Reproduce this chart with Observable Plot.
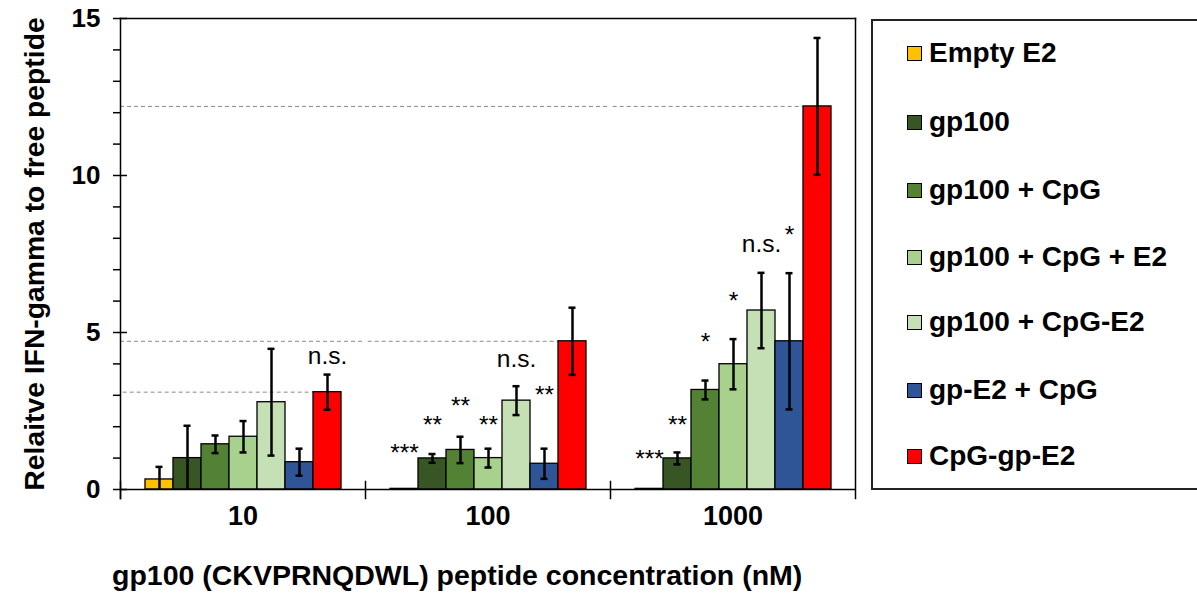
<!DOCTYPE html>
<html><head><meta charset="utf-8">
<script src="https://cdn.jsdelivr.net/npm/d3@7"></script>
<script src="https://cdn.jsdelivr.net/npm/@observablehq/plot@0.6"></script>
<style>
html,body{margin:0;padding:0;background:#fff;overflow:hidden;}
body{font-family:"Liberation Sans",Arial,sans-serif;color:#000;}
#wrap{position:relative;width:1197px;height:594px;overflow:hidden;}
#chart{position:absolute;left:0;top:0;}
#xtitle{position:absolute;left:112px;top:559px;font-weight:bold;font-size:28.5px;white-space:nowrap;line-height:32px;}
#legend{position:absolute;left:871px;top:19px;width:340px;height:471px;border:2px solid #222;box-sizing:border-box;}
.item{position:absolute;left:34px;height:34px;display:flex;align-items:center;font-weight:bold;font-size:28px;white-space:nowrap;}
.sw{width:13px;height:13px;border:1.5px solid #000;margin-right:7px;}
</style></head>
<body><div id="wrap"><div id="chart"></div><div id="xtitle"></div><div id="legend"></div></div>
<script>
const concentrations = ["10", "100", "1000"];
const series = ["Empty E2", "gp100", "gp100 + CpG", "gp100 + CpG + E2", "gp100 + CpG-E2", "gp-E2 + CpG", "CpG-gp-E2"];
const colors = ["#FFC000", "#375623", "#548235", "#A9D18E", "#C5E0B4", "#2F5597", "#FF0000"];
const values10 = [0.32, 1.0, 1.44, 1.68, 2.78, 0.87, 3.1];
const values100 = [0.02, 0.99, 1.26, 1.0, 2.83, 0.82, 4.72];
const values1000 = [0.02, 0.99, 3.17, 3.99, 5.7, 4.72, 12.2];
const errors10 = [0.4, 1.03, 0.28, 0.5, 1.7, 0.43, 0.56];
const errors100 = [0, 0.14, 0.42, 0.3, 0.46, 0.48, 1.07];
const errors1000 = [0, 0.19, 0.3, 0.8, 1.2, 2.17, 2.18];
const sigLabels10 = ["", "", "", "", "", "", "n.s."];
const sigLabels100 = ["***", "**", "**", "**", "n.s.", "**", ""];
const sigLabels1000 = ["***", "**", "*", "*", "n.s.", "*", ""];
const sigHeights10 = [null, null, null, null, null, null, 4.01];
const sigHeights100 = [0.92, 1.8, 2.4, 1.8, 3.89, 2.74, null];
const sigHeights1000 = [0.73, 1.8, 4.44, 5.75, 7.55, 7.85, null];
const yTicks = [0, 1, 2, 3, 4, 5, 6, 7, 8, 9, 10, 11, 12, 13, 14, 15];
const yMajorTicks = [0, 5, 10, 15];
const yLabel = "Relaitve IFN-gamma to free peptide";
const xLabel = "gp100 (CKVPRNQDWL) peptide concentration (nM)";

const valueSets = [values10, values100, values1000];
const errorSets = [errors10, errors100, errors1000];
const labelSets = [sigLabels10, sigLabels100, sigLabels1000];
const heightSets = [sigHeights10, sigHeights100, sigHeights1000];

const rows = [];
concentrations.forEach((c, gi) => {
  series.forEach((s, si) => {
    const v = valueSets[gi][si], e = errorSets[gi][si];
    rows.push({conc: c, series: s, value: v, lo: Math.max(0, v - e), hi: v + e, err: e,
      lowCap: v - e > 0, label: labelSets[gi][si], labelY: heightSets[gi][si]});
  });
});
const reds = concentrations.map((c, gi) => valueSets[gi][series.length - 1]);
// dashed reference lines from the axis to each red bar
const partialRefs = concentrations.map((c, gi) => ({conc: c, y: reds[gi], start: series[0], end: series[series.length - 2]}));
const fullRefs = [];
concentrations.forEach((c, gi) => reds.forEach((r, gj) => { if (gj > gi) fullRefs.push({conc: c, y: r}); }));

const W = 860, H = 545, mT = 18, mB = 56, mL = 120, mR = 5;
const frameH = H - mT - mB;
const padOuter = 0.78;
const facetW = (W - mL - mR) / concentrations.length;
const step = facetW / (series.length + 2 * padOuter);
const font = "'Liberation Sans', Arial, sans-serif";
const dash = {stroke: "#8a8a8a", strokeWidth: 1, strokeDasharray: "4,3"};

const chart = Plot.plot({
  width: W, height: H,
  marginTop: mT, marginBottom: mB, marginLeft: mL, marginRight: mR,
  style: {fontFamily: font, color: "#000", background: "transparent", overflow: "visible"},
  fx: {domain: concentrations, padding: 0, label: null},
  x: {domain: series, paddingInner: 0, paddingOuter: padOuter, axis: null},
  y: {domain: [0, 15], axis: null},
  color: {domain: series, range: colors},
  marks: [
    Plot.ruleY(fullRefs, {fx: "conc", y: "y", ...dash}),
    Plot.ruleY(partialRefs, {fx: "conc", y: "y", x1: "start", x2: "end", insetLeft: -padOuter * step, ...dash}),
    Plot.barY(rows, {fx: "conc", x: "series", y: "value", fill: "series", stroke: "#000", strokeWidth: 1.3}),
    Plot.ruleY([0], {stroke: "#000", strokeWidth: 1.5}),
    Plot.frame({facet: "super", anchor: "top", stroke: "#000", strokeWidth: 1.5}),
    Plot.frame({facet: "super", anchor: "right", insetBottom: -9, stroke: "#000", strokeWidth: 1.5}),
    Plot.frame({facet: "super", anchor: "left", insetBottom: -9, stroke: "#000", strokeWidth: 1.5}),
    Plot.frame({anchor: "left", insetTop: frameH - 8, insetBottom: -9, stroke: "#000", strokeWidth: 1.5}),
    Plot.ruleX(rows.filter(d => d.err > 0), {fx: "conc", x: "series", y1: "lo", y2: "hi", stroke: "#000", strokeWidth: 2.5}),
    Plot.tickY(rows.filter(d => d.err > 0), {fx: "conc", x: "series", y: "hi", stroke: "#000", strokeWidth: 2.5, insetLeft: 10.5, insetRight: 10.5}),
    Plot.tickY(rows.filter(d => d.err > 0 && d.lowCap), {fx: "conc", x: "series", y: "lo", stroke: "#000", strokeWidth: 2.5, insetLeft: 10.5, insetRight: 10.5}),
    Plot.text(rows.filter(d => d.label), {fx: "conc", x: "series", y: "labelY", text: "label", fontSize: 24.5, lineAnchor: "bottom", fill: "#000"}),
    Plot.axisY({ticks: yTicks, tickSize: 7, tickPadding: 13, tickFormat: d => d % 5 === 0 ? String(d) : "",
      fontSize: 26, fontWeight: "bold", stroke: "#000", strokeWidth: 1.5, label: null}),
    Plot.axisY({ticks: yMajorTicks, tickSize: -7, tickFormat: () => "", stroke: "#000", strokeWidth: 1.5, label: null}),
    Plot.axisY({ticks: [], fontSize: 28.3, fontWeight: "bold",
      label: yLabel, labelAnchor: "center", labelArrow: "none", labelOffset: 97}),
    Plot.axisFx({anchor: "bottom", tickSize: 0, tickPadding: 16, fontSize: 27, fontWeight: "bold", label: null})
  ]
});
document.getElementById("chart").appendChild(chart);
document.getElementById("xtitle").textContent = xLabel;

const legend = document.getElementById("legend");
const itemTops = [15, 84, 152, 219, 284, 352, 418];
series.forEach((s, i) => {
  const it = document.createElement("div");
  it.className = "item";
  it.style.top = itemTops[i] + "px";
  const sw = document.createElement("div");
  sw.className = "sw";
  sw.style.background = colors[i];
  const t = document.createElement("span");
  t.textContent = s;
  it.appendChild(sw); it.appendChild(t);
  legend.appendChild(it);
});
</script>
</body></html>
